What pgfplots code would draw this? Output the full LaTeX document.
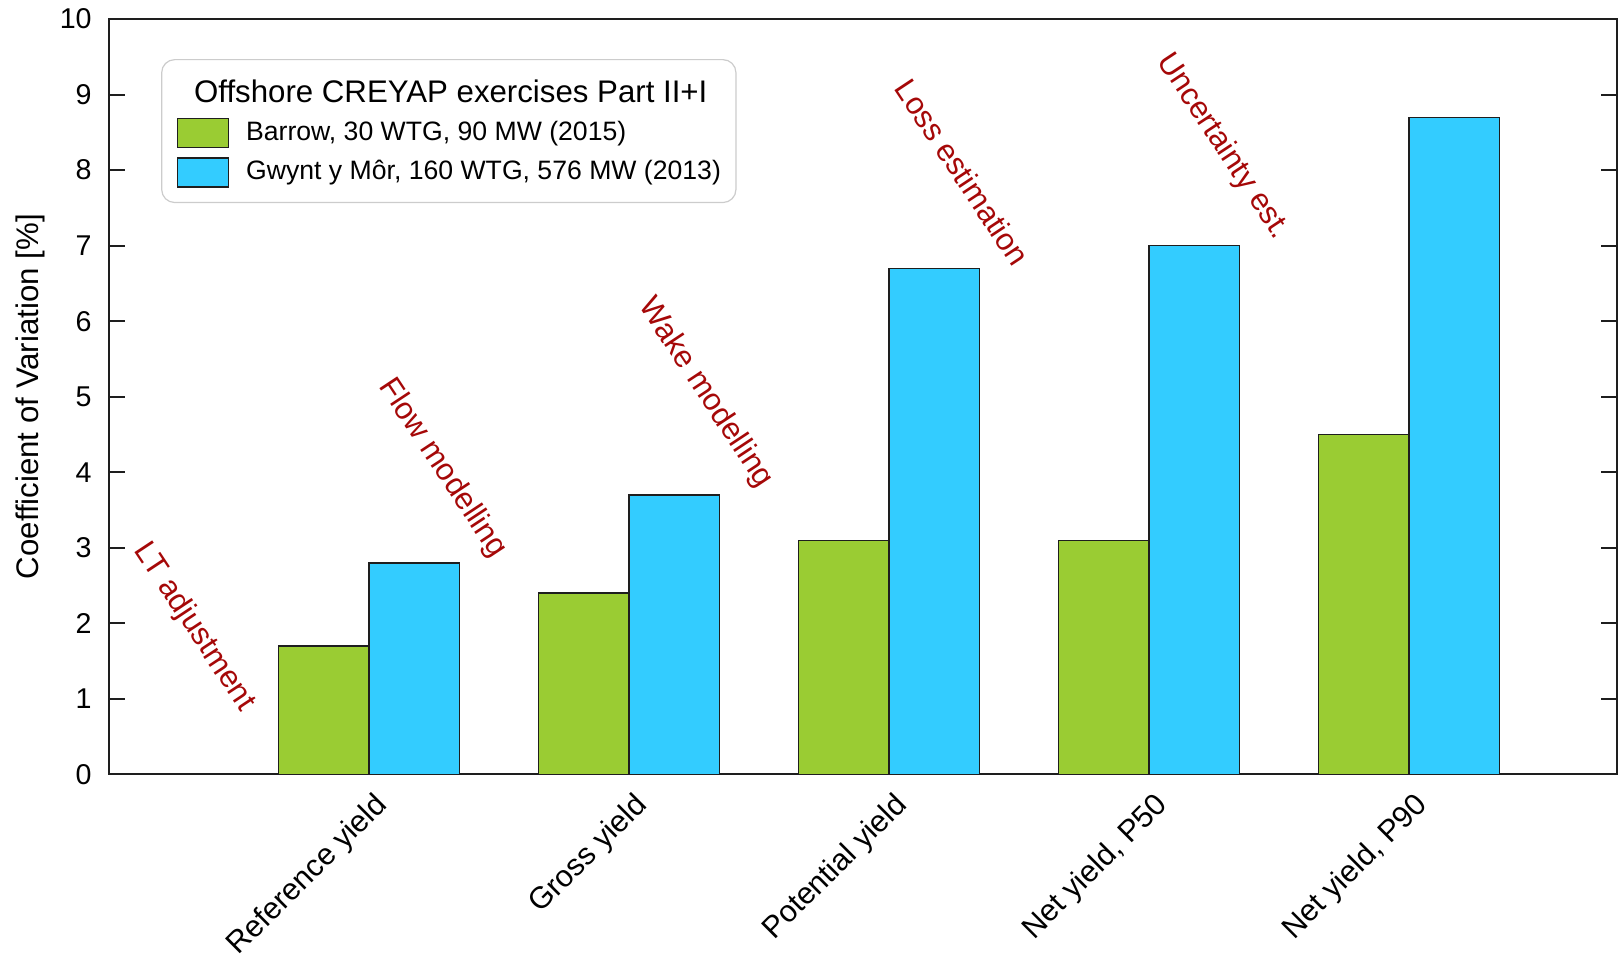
\documentclass[border=0pt]{standalone}
\usepackage{fontspec}
\setmainfont{Liberation Sans}
\usepackage{pgfplots}
\pgfplotsset{compat=1.18}

\definecolor{barrow}{RGB}{154,204,51}
\definecolor{gwynt}{RGB}{51,204,255}
\definecolor{stepred}{RGB}{165,8,8}
\definecolor{frame}{RGB}{30,30,30}

\newcommand{\fs}[1]{\fontsize{#1}{1.2\dimexpr#1\relax}\selectfont}

\begin{document}
\begin{tikzpicture}
\begin{axis}[
  name=ax,
  scale only axis,
  width=753.5pt, height=377.5pt,
  xmin=0, xmax=5.8, ymin=0, ymax=10,
  axis line style={frame, line width=1pt},
  ytick={0,1,...,10},
  tick align=inside,
  major tick length=8pt,
  ytick style={frame, line width=1pt},
  xtick={1,2,3,4,5},
  xtick style={draw=none},
  xticklabels={Reference yield, Gross yield, Potential yield, {Net yield, P50}, {Net yield, P90}},
  /pgf/number format/assume math mode=true,
  yticklabel style={font=\fs{14.3pt}, inner sep=0pt, xshift=-8.5pt},
  xticklabel style={font=\fs{15.2pt}, xshift=7pt, yshift=-13pt, rotate=45, anchor=east, inner sep=0pt},
  ylabel={Coefficient of Variation [\%]},
  ylabel style={font=\fs{15.6pt}, at={(axis description cs:-0.038,0.5)}, anchor=south, rotate=0},
  legend cell align=left,
  legend style={
    at={(axis description cs:0.0345,0.947)}, anchor=north west,
    draw=gray!40, line width=0.6pt, rounded corners=6.5pt, fill=white,
    inner xsep=7.5pt, inner ysep=7.5pt,
    font=\fs{13.3pt},
    row sep=4.5pt, column sep=8.5pt,
    nodes={inner sep=0pt, text height=10pt, text depth=3pt},
  },
]

% title row of the legend
\addlegendimage{empty legend}
\addlegendentry[text height=14pt]{\hspace*{-26pt}\fs{15.6pt}Offshore CREYAP exercises Part II+I}

% Barrow, 30 WTG, 90 MW (2015)
\addplot[ybar, bar width=45.3pt, bar shift=-22.65pt, fill=barrow, draw=frame, line width=0.7pt,
  legend image code/.code={\draw[sharp corners, fill=barrow, draw=frame, line width=0.7pt] (0pt,-7pt) rectangle (25.5pt,7.5pt);}]
  coordinates {(1,1.7) (2,2.4) (3,3.1) (4,3.1) (5,4.5)};
\addlegendentry{Barrow, 30 WTG, 90 MW (2015)}

% Gwynt y Mor, 160 WTG, 576 MW (2013)
\addplot[ybar, bar width=45.3pt, bar shift=22.65pt, fill=gwynt, draw=frame, line width=0.7pt,
  legend image code/.code={\draw[sharp corners, fill=gwynt, draw=frame, line width=0.7pt] (0pt,-7pt) rectangle (25.5pt,7.5pt);}]
  coordinates {(1,2.8) (2,3.7) (3,6.7) (4,7.0) (5,8.7)};
\addlegendentry{Gwynt y Môr, 160 WTG, 576 MW (2013)}

% process steps between the yield levels
\begin{scope}[every node/.style={text=stepred, font=\fs{15.5pt}, rotate=-56.5, anchor=center, inner sep=0pt}]
\node at (axis cs:0.327,1.95) {LT adjustment};
\node at (axis cs:1.282,4.05) {Flow modelling};
\node at (axis cs:2.294,5.05) {Wake modelling};
\node at (axis cs:3.283,7.97) {Loss estimation};
\node at (axis cs:4.284,8.31) {Uncertainty est.};
\end{scope}
\end{axis}
\pgfresetboundingbox
\path[use as bounding box] ([xshift=-54.5pt,yshift=-92pt]ax.south west) rectangle ([xshift=0.5pt,yshift=9.5pt]ax.north east);
\end{tikzpicture}
\end{document}
